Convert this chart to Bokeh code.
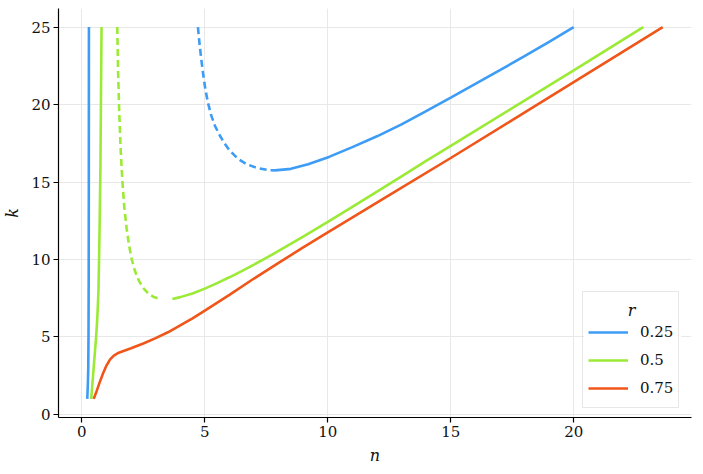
from bokeh.plotting import figure
from bokeh.models import Range1d, Legend, LegendItem, FixedTicker, Label, BoxAnnotation
from bokeh.embed import file_html
from bokeh.resources import INLINE

# ---- data ----
r_labels = ["0.25", "0.5", "0.75"]
legend_title = "r"

blue_steep_n = [0.22, 0.245, 0.26, 0.27, 0.278, 0.283, 0.287]
blue_steep_k = [1.0, 2.0, 3.0, 5.0, 9.0, 15.0, 25.0]
blue_dash_n = [4.72, 4.78, 4.85, 4.93, 5.02, 5.13, 5.26, 5.42, 5.61, 5.8, 6.0, 6.35, 6.7, 7.1, 7.58, 7.85]
blue_dash_k = [25.0, 24.0, 23.0, 22.0, 21.0, 20.1, 19.3, 18.6, 18.0, 17.5, 17.05, 16.5, 16.15, 15.92, 15.77, 15.75]
blue_main_n = [7.85, 8.5, 9.2, 10.05, 11.0, 12.0, 13.0, 14.0, 15.0, 16.0, 17.0, 18.0, 19.0, 20.0]
blue_main_k = [15.75, 15.85, 16.15, 16.62, 17.25, 17.95, 18.72, 19.58, 20.45, 21.33, 22.22, 23.12, 24.05, 25.0]

green_steep_n = [0.38, 0.43, 0.48, 0.53, 0.58, 0.62, 0.65, 0.675, 0.70, 0.73, 0.755, 0.775, 0.80]
green_steep_k = [1.0, 2.0, 3.0, 4.0, 5.0, 6.0, 7.0, 8.0, 10.0, 13.0, 16.0, 20.0, 25.0]
green_dash_n = [1.44, 1.475, 1.52, 1.58, 1.65, 1.73, 1.82, 1.92, 2.03, 2.16, 2.32, 2.5, 2.7, 2.9, 3.14]
green_dash_k = [25.0, 22.0, 19.5, 17.0, 15.0, 13.3, 12.0, 10.9, 10.0, 9.25, 8.62, 8.15, 7.8, 7.6, 7.47]
green_main_n = [3.68, 4.0, 4.5, 5.0, 5.5, 6.0, 6.5, 7.0, 7.5, 8.0, 9.0, 10.0, 11.0, 12.0, 13.0, 14.0,
                15.0, 17.5, 20.0, 22.83]
green_main_k = [7.45, 7.57, 7.8, 8.12, 8.47, 8.85, 9.25, 9.67, 10.1, 10.55, 11.48, 12.43, 13.4, 14.38,
                15.37, 16.36, 17.33, 19.77, 22.2, 25.0]

orange_n = [0.48, 0.6, 0.72, 0.86, 1.0, 1.15, 1.3, 1.5, 1.75, 2.0, 2.5, 3.0, 3.5, 4.0, 4.5, 5.0,
            6.0, 7.0, 8.0, 9.0, 10.0, 12.5, 15.0, 17.5, 20.0, 23.62]
orange_k = [1.0, 1.5, 2.05, 2.64, 3.15, 3.55, 3.8, 3.98, 4.13, 4.27, 4.58, 4.92, 5.3, 5.75, 6.2, 6.7,
            7.72, 8.77, 9.78, 10.78, 11.75, 14.15, 16.55, 19.0, 21.45, 25.0]

x_ticks = [0, 5, 10, 15, 20]
y_ticks = [0, 5, 10, 15, 20, 25]

BLUE = "#3d9cf5"
GREEN = "#9bea36"
ORANGE = "#f0561a"
FONT = "DejaVu Serif"

p = figure(frame_width=633, frame_height=409, output_backend="svg", toolbar_location=None,
           x_range=Range1d(-0.95, 24.79), y_range=Range1d(-0.2, 26.2),
           min_border_left=51, min_border_right=3, min_border_top=8, min_border_bottom=40)
p.outline_line_color = None
p.background_fill_color = "white"
p.border_fill_color = "white"

p.xaxis.ticker = FixedTicker(ticks=x_ticks)
p.yaxis.ticker = FixedTicker(ticks=y_ticks)
p.xgrid.ticker = FixedTicker(ticks=x_ticks)
p.ygrid.ticker = FixedTicker(ticks=y_ticks)
p.grid.grid_line_color = "#e8e8e8"
p.grid.grid_line_width = 1

p.axis.axis_line_color = "black"
p.axis.axis_line_width = 1.2
p.axis.major_tick_line_color = "black"
p.axis.major_tick_line_width = 1.2
p.axis.major_tick_out = 5
p.axis.major_tick_in = 0
p.axis.minor_tick_line_color = None
p.axis.major_label_text_font = FONT
p.axis.major_label_text_font_size = "15px"
p.axis.major_label_text_color = "#111111"
p.axis.major_label_standoff = 3
p.axis.axis_label_text_font = FONT
p.axis.axis_label_text_font_style = "italic"
p.axis.axis_label_text_font_size = "16px"
p.axis.axis_label_text_color = "#111111"
p.xaxis.axis_label = "n"
p.yaxis.axis_label = "k"
p.xaxis.axis_label_standoff = 6
p.yaxis.axis_label_standoff = 6

# white panel behind the (transparent) legend, hiding the grid there
panel = BoxAnnotation(left=20.42, right=24.37, bottom=0.42, top=8.02,
                      fill_color="white", fill_alpha=1, line_color=None, level="annotation")
p.add_layout(panel)

W = 2.6
DASH = "7 4"
rb = p.line(blue_steep_n, blue_steep_k, line_color=BLUE, line_width=W)
p.line(blue_dash_n, blue_dash_k, line_color=BLUE, line_width=W, line_dash=DASH)
p.line(blue_main_n, blue_main_k, line_color=BLUE, line_width=W)

rg = p.line(green_steep_n, green_steep_k, line_color=GREEN, line_width=W)
p.line(green_dash_n, green_dash_k, line_color=GREEN, line_width=W, line_dash=DASH)
p.line(green_main_n, green_main_k, line_color=GREEN, line_width=W)

ro = p.line(orange_n, orange_k, line_color=ORANGE, line_width=W)

legend = Legend(items=[LegendItem(label=r_labels[0], renderers=[rb]),
                       LegendItem(label=r_labels[1], renderers=[rg]),
                       LegendItem(label=r_labels[2], renderers=[ro])],
                location=(524, 9), margin=0, padding=5, spacing=0,
                glyph_width=40, glyph_height=28, label_height=28, label_standoff=12,
                label_text_font=FONT, label_text_font_size="15px",
                label_text_color="#111111",
                title=" ", title_text_font=FONT, title_text_font_size="16px",
                title_standoff=2,
                border_line_color="#cfcfcf", border_line_width=1.2,
                background_fill_alpha=0)
p.add_layout(legend, "center")

title_lbl = Label(x=22.35, y=6.7, text=legend_title,
                  text_font=FONT, text_font_size="16px", text_font_style="italic",
                  text_color="#111111", text_align="center", text_baseline="middle")
p.add_layout(title_lbl)

open("out.html", "w").write(file_html(p, INLINE))
